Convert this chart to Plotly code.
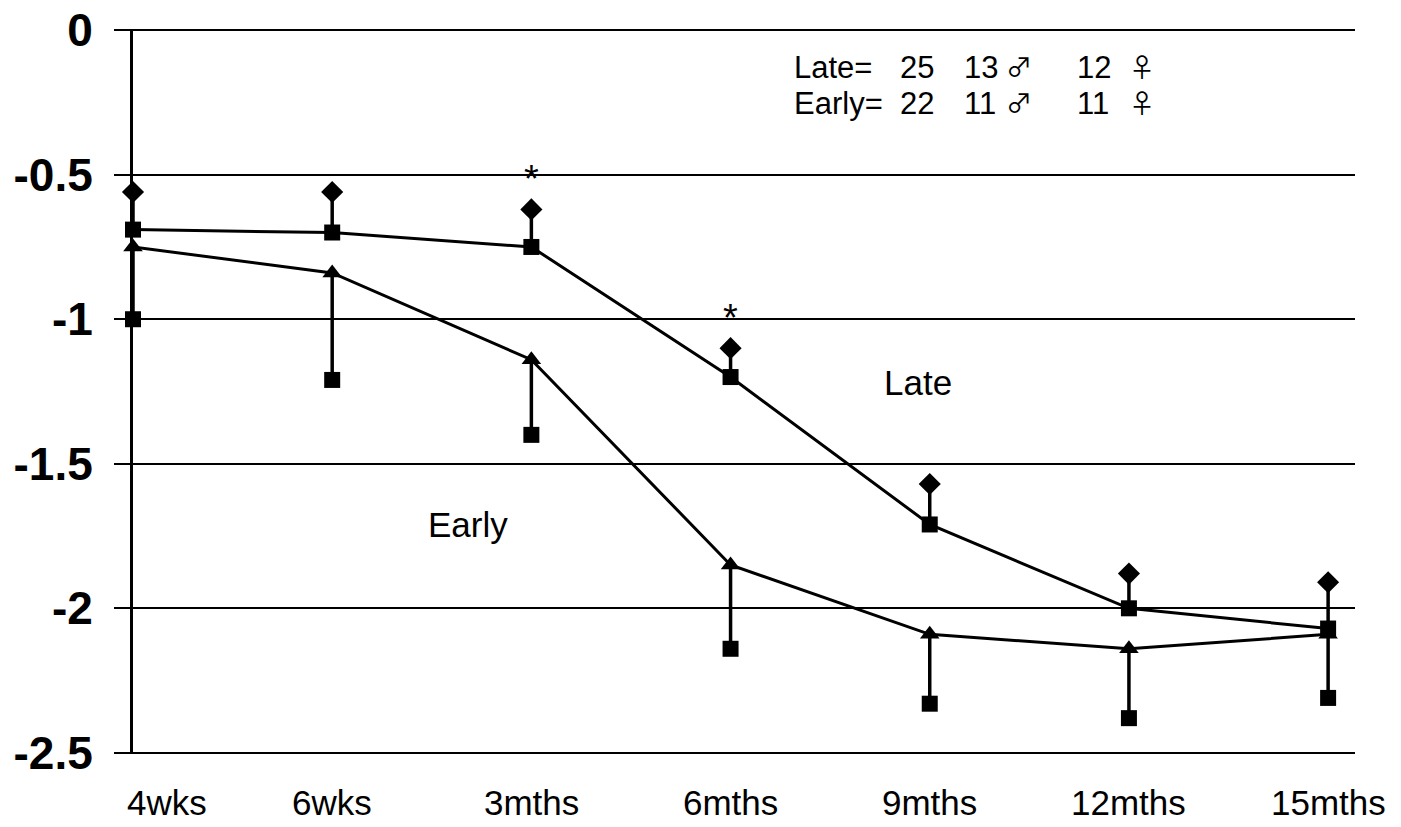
import plotly.graph_objects as go

# Age at measurement
ages = ["4wks", "6wks", "3mths", "6mths", "9mths", "12mths", "15mths"]

# Late group: mean and upper end of its error bar
late_mean = [-0.69, -0.70, -0.75, -1.20, -1.71, -2.00, -2.07]
late_upper = [-0.56, -0.56, -0.62, -1.10, -1.57, -1.88, -1.91]

# Early group: mean and lower end of its error bar
early_mean = [-0.75, -0.84, -1.14, -1.85, -2.09, -2.14, -2.09]
early_lower = [-1.00, -1.21, -1.40, -2.14, -2.33, -2.38, -2.31]

# Time points flagged as significant
signif_ages = ["3mths", "6mths"]

# Group sizes: total, male, female
group_names = ["Late=", "Early="]
group_total = [25, 22]
group_male = [13, 11]
group_female = [12, 11]

y_ticks = [0, -0.5, -1, -1.5, -2, -2.5]
y_tick_text = ["0", "-0.5", "-1", "-1.5", "-2", "-2.5"]

FONT = "Arial, 'Liberation Sans', sans-serif"
SYM_FONT = "'Noto Sans CJK SC', 'DejaVu Sans', sans-serif"
INK = "black"

late_plus = [u - m for u, m in zip(late_upper, late_mean)]
early_minus = [m - lo for m, lo in zip(early_mean, early_lower)]

fig = go.Figure()

# Early: mean line with downward error stems
fig.add_trace(go.Scatter(
    x=ages, y=early_mean, mode="lines+markers",
    line=dict(color=INK, width=3),
    marker=dict(symbol="triangle-up", size=17, color=INK),
    error_y=dict(type="data", symmetric=False, array=[0] * len(ages),
                 arrayminus=early_minus, color=INK, thickness=3.5, width=0),
    showlegend=False, cliponaxis=False,
))
fig.add_trace(go.Scatter(
    x=ages, y=early_lower, mode="markers",
    marker=dict(symbol="square", size=16, color=INK),
    showlegend=False, cliponaxis=False,
))

# Late: mean line with upward error stems
fig.add_trace(go.Scatter(
    x=ages, y=late_mean, mode="lines+markers",
    line=dict(color=INK, width=3),
    marker=dict(symbol="square", size=16, color=INK),
    error_y=dict(type="data", symmetric=False, array=late_plus,
                 arrayminus=[0] * len(ages), color=INK, thickness=3.5, width=0),
    showlegend=False, cliponaxis=False,
))
fig.add_trace(go.Scatter(
    x=ages, y=late_upper, mode="markers",
    marker=dict(symbol="diamond", size=17, color=INK),
    showlegend=False, cliponaxis=False,
))

annotations = []
# significance asterisks above the Late error bars
for a in signif_ages:
    i = ages.index(a)
    annotations.append(dict(
        x=a, y=late_upper[i], yref="y", xref="x", text="*",
        showarrow=False, yanchor="bottom", yshift=7,
        font=dict(family=FONT, size=38, color=INK),
    ))

# category labels along the bottom
for k, a in enumerate(ages):
    annotations.append(dict(
        x=a, y=0, xref="x", yref="paper", text=a, showarrow=False,
        xanchor="left" if k == 0 else "center", xshift=-8 if k == 0 else 0,
        yanchor="top", yshift=-27,
        font=dict(family=FONT, size=35, color=INK),
    ))

# group labels
annotations.append(dict(x=3.94, y=-1.22, text="Late", showarrow=False,
                        font=dict(family=FONT, size=35, color=INK)))
annotations.append(dict(x=1.68, y=-1.71, text="Early", showarrow=False,
                        font=dict(family=FONT, size=35, color=INK)))

# group sizes, set out in columns
row_y = [-0.13, -0.255]
text_cols = [
    (3.31, group_names),
    (3.84, [str(v) for v in group_total]),
    (4.16, [str(v) for v in group_male]),
    (4.73, [str(v) for v in group_female]),
]
for xc, rows in text_cols:
    for r, txt in enumerate(rows):
        annotations.append(dict(
            x=xc, y=row_y[r], text=txt, showarrow=False,
            xanchor="left", yanchor="middle",
            font=dict(family=FONT, size=31, color=INK),
        ))
for xc, glyph in [(4.375, "\u2642"), (4.99, "\u2640")]:
    for r in range(len(group_names)):
        annotations.append(dict(
            x=xc, y=row_y[r], text=glyph, showarrow=False,
            xanchor="left", yanchor="middle", yshift=2,
            font=dict(family=SYM_FONT, size=26, color=INK),
        ))

fig.update_layout(
    width=1401, height=827,
    margin=dict(l=133, r=46, t=29, b=73),
    paper_bgcolor="white", plot_bgcolor="white",
    annotations=annotations,
    xaxis=dict(
        type="category", range=[0, 6.135], automargin=False,
        showgrid=False, zeroline=False, showline=False,
        showticklabels=False, ticks="",
    ),
    yaxis=dict(
        range=[-2.504, 0.004], automargin=False,
        tickvals=y_ticks, ticktext=y_tick_text,
        showgrid=True, gridcolor=INK, gridwidth=2,
        zeroline=False,
        showline=True, linecolor=INK, linewidth=3,
        ticks="outside", ticklen=16, tickwidth=2, tickcolor=INK,
        ticklabelstandoff=12,
        tickfont=dict(family=FONT, size=46, color=INK, weight="bold"),
    ),
)

fig.write_html("out.html")
